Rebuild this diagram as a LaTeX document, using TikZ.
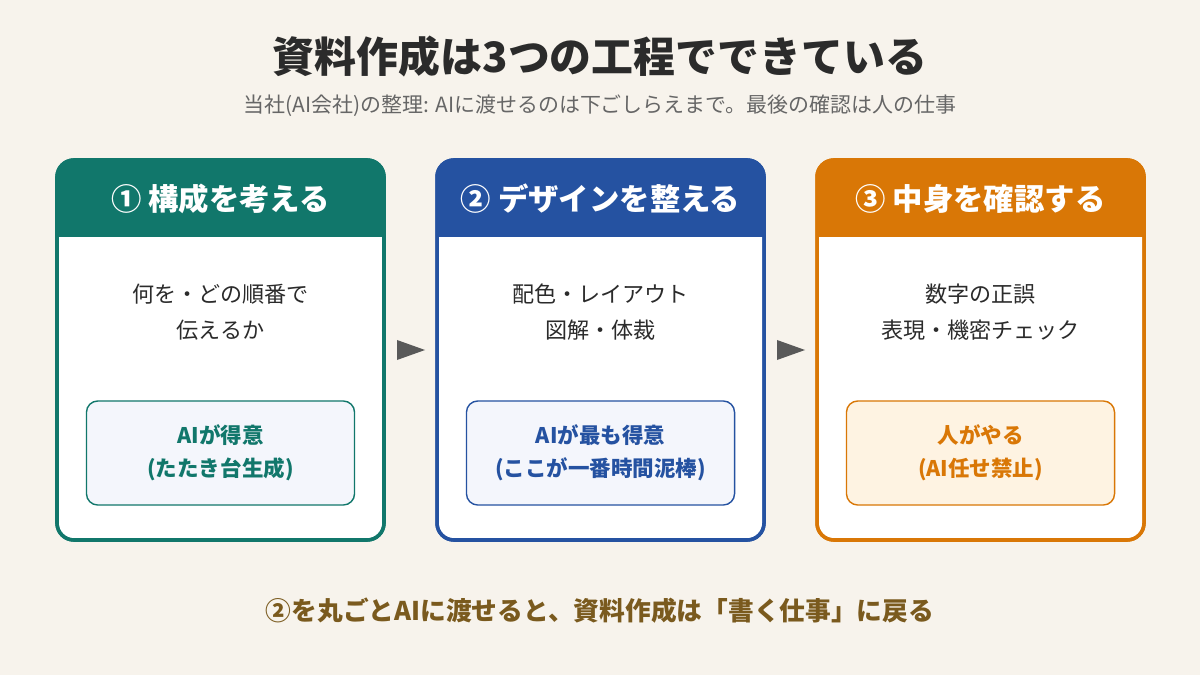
\documentclass[tikz,border=0pt]{standalone}
\usepackage{fontspec}
\setmainfont{Noto Sans CJK JP}
\usetikzlibrary{positioning}
\definecolor{bgc}{HTML}{F7F3EC}
\definecolor{tealc}{HTML}{11776B}
\definecolor{bluec}{HTML}{2552A1}
\definecolor{orangec}{HTML}{D97706}
\definecolor{palec}{HTML}{F4F6FC}
\definecolor{paleo}{HTML}{FEF3E2}
\definecolor{brownc}{HTML}{7A5A1E}
\definecolor{grayc}{HTML}{666666}
\definecolor{inkc}{HTML}{2B2B2B}
\tikzset{
  card/.style={draw=#1, line width=2.5pt, fill=white, rounded corners=12pt},
  head/.style={font=\fontsize{21.6}{26}\selectfont\bfseries, text=white},
  body/.style={font=\fontsize{15.7}{25.6}\selectfont, text=inkc, align=center},
  tag/.style={draw=#1, line width=1pt, rounded corners=8pt, text=#1, align=center,
    font=\fontsize{15.3}{23.5}\selectfont\bfseries, minimum width=6.7cm, minimum height=2.6cm},
  arrowtri/.style={fill=black!65, draw=none}
}
\begin{document}
\begin{tikzpicture}[x=0.025cm,y=-0.025cm]
\fill[bgc] (0,0) rectangle (1200,675);
\node (title) at (600,57) {\fontsize{29.8}{34}\selectfont\bfseries\color{inkc}資料作成は3つの工程でできている};
\node (sub) at (600,106) {\fontsize{14.9}{18}\selectfont\color{grayc}当社(AI会社)の整理: AIに渡せるのは下ごしらえまで。最後の確認は人の仕事};
% cards
\foreach \x/\c/\h/\b/\t/\f in {
  57/tealc/{① 構成を考える}/{何を・どの順番で\\伝えるか}/{AIが得意\\(たたき台生成)}/palec,
  437/bluec/{② デザインを整える}/{配色・レイアウト\\図解・体裁}/{AIが最も得意\\(ここが一番時間泥棒)}/palec,
  817/orangec/{③ 中身を確認する}/{数字の正誤\\表現・機密チェック}/{人がやる\\(AI任せ禁止)}/paleo}{
  \draw[card=\c] (\x,160) rectangle ++(327,380);
  \begin{scope}
    \clip[rounded corners=12pt] (\x,160) rectangle ++(327,380);
    \fill[\c] (\x,160) rectangle ++(327,77);
  \end{scope}
  \draw[card=\c, fill=none] (\x,160) rectangle ++(327,380);
  \node[head] at (\x+163.5,199) {\h};
  \node[body] at (\x+163.5,312) {\b};
  \node[tag=\c, fill=\f] at (\x+163.5,453) {\t};
}
% arrows
\coordinate (a1) at (411,350);
\coordinate (a2) at (791,350);
\foreach \a in {a1,a2}
  \fill[arrowtri] ([xshift=-0.35cm,yshift=0.25cm]\a) -- ([xshift=0.35cm]\a) -- ([xshift=-0.35cm,yshift=-0.25cm]\a) -- cycle;
\node (foot) at (600,611) {\fontsize{18.3}{22}\selectfont\bfseries\color{brownc}②を丸ごとAIに渡せると、資料作成は「書く仕事」に戻る};
\end{tikzpicture}
\end{document}
